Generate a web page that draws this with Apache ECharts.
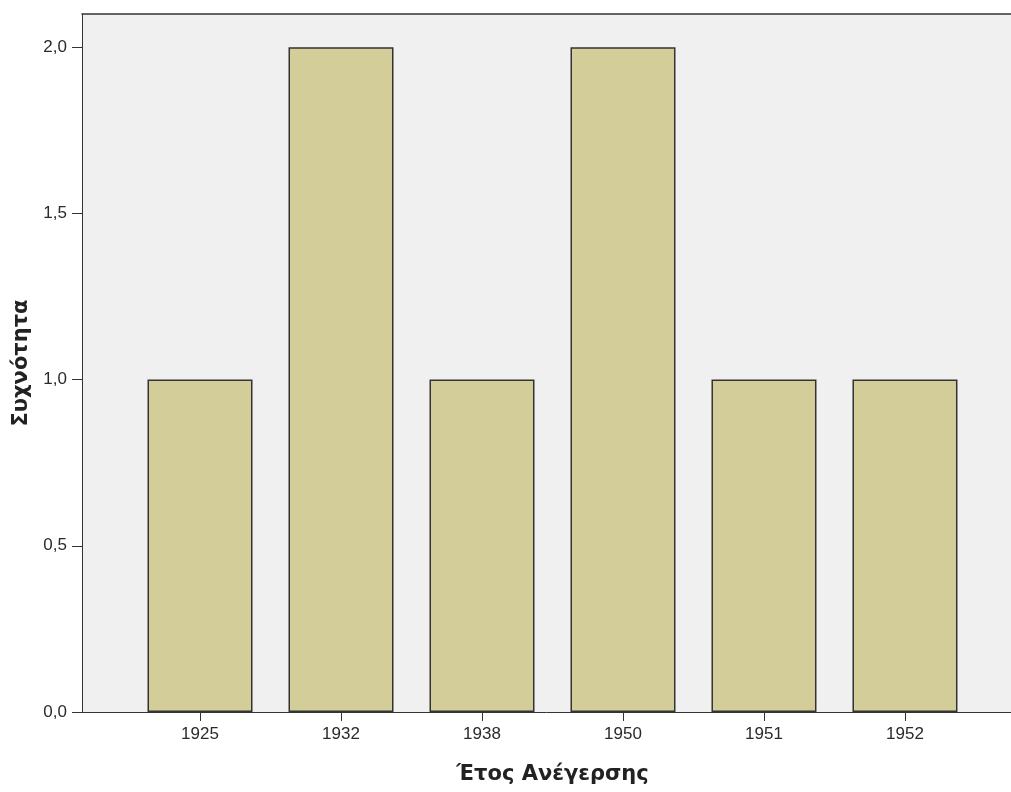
<!DOCTYPE html>
<html><head><meta charset="utf-8">
<script src="https://cdn.jsdelivr.net/npm/echarts@6/dist/echarts.min.js"></script>
<style>html,body{margin:0;padding:0;background:#fff}#c{width:1011px;height:792px}</style>
</head><body><div id="c"></div>
<script>
var categories = ['1925', '1932', '1938', '1950', '1951', '1952'];
var counts = [1, 2, 1, 2, 1, 1];
var yTicks = [0, 0.5, 1, 1.5, 2];
var xTitle = 'Έτος Ανέγερσης';
var yTitle = 'Συχνότητα';

var idx = categories.map(function (c, i) { return i; });
var chart = echarts.init(document.getElementById('c'), null, { renderer: 'canvas' });
var font = 'Liberation Sans, Arial, sans-serif';
var xMin = -0.837, xMax = 5.752;
chart.setOption({
  animation: false,
  grid: { left: 82, top: 14, bottom: 80, right: 0, show: true, backgroundColor: '#f0f0f0', borderWidth: 0 },
  xAxis: [{
    type: 'value', min: xMin, max: xMax,
    name: xTitle, nameLocation: 'middle', nameGap: 52,
    nameTextStyle: { fontFamily: 'DejaVu Sans', fontWeight: 'bold', fontSize: 21, color: '#222', padding: [0, 0, 0, 12] },
    axisLine: { show: true, onZero: false, lineStyle: { color: '#333', width: 1 } },
    axisTick: { show: true, length: 9, lineStyle: { color: '#333' }, customValues: idx },
    axisLabel: { customValues: idx, formatter: function (v) { return categories[Math.round(v)]; }, fontFamily: font, fontSize: 17, color: '#2a2a2a', margin: 14 },
    splitLine: { show: false }
  }, {
    type: 'value', position: 'top', min: xMin, max: xMax,
    axisLine: { show: true, onZero: false, lineStyle: { color: '#333', width: 1.5 } },
    axisTick: { show: false }, axisLabel: { show: false }, splitLine: { show: false }
  }],
  yAxis: {
    type: 'value', min: 0, max: 2.1,
    name: yTitle, nameLocation: 'middle', nameGap: 49, nameRotate: 90,
    nameTextStyle: { fontFamily: 'DejaVu Sans', fontWeight: 'bold', fontSize: 21, color: '#222' },
    axisLine: { show: true, onZero: false, lineStyle: { color: '#333', width: 1 } },
    axisTick: { show: true, length: 10, lineStyle: { color: '#333' }, customValues: yTicks },
    axisLabel: { customValues: yTicks, formatter: function (v) { return v.toFixed(1).replace('.', ','); }, fontFamily: font, fontSize: 17, color: '#2a2a2a', margin: 15 },
    splitLine: { show: false }
  },
  series: [{
    type: 'bar',
    xAxisIndex: 0,
    barWidth: 105,
    data: idx.map(function (i) { return [i, counts[i]]; }),
    itemStyle: { color: '#d3ce99', borderColor: '#333', borderWidth: 1.5 }
  }]
});
</script></body></html>
